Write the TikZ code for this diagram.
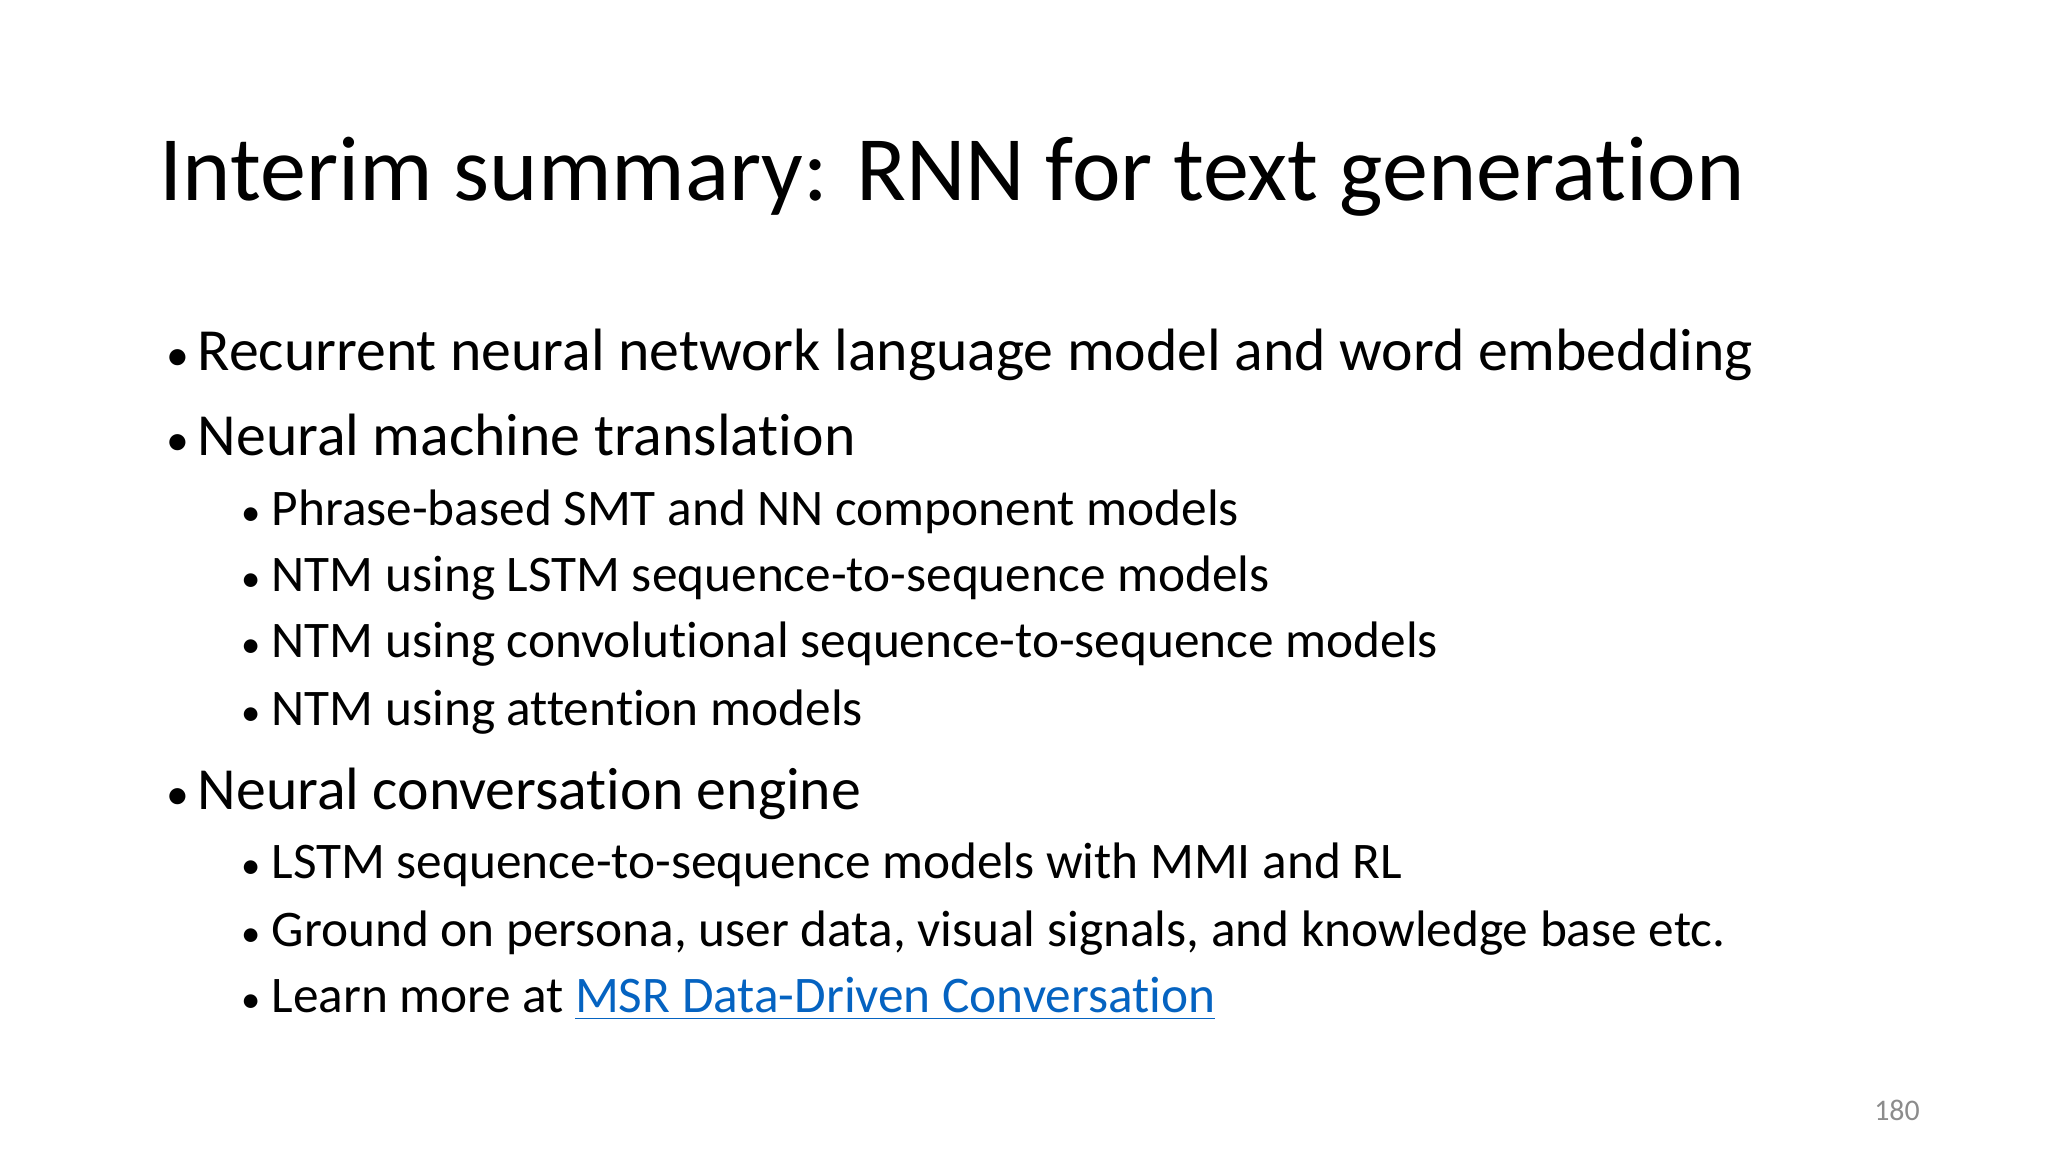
\documentclass[tikz,border=0pt]{standalone}
\usepackage{fontspec}
\setmainfont[Ligatures=NoCommon]{Carlito}
\definecolor{linkblue}{HTML}{0563C1}
\definecolor{pagegray}{HTML}{8C8C8C}
\newcommand{\bulA}{\makebox[0.31cm][l]{\fontsize{13}{14}\selectfont•}}
\newcommand{\bulB}{\makebox[0.30cm][l]{\fontsize{11}{12}\selectfont•}}
\begin{document}
\begin{tikzpicture}[x=1cm,y=1cm,
  title/.style={anchor=base west,inner sep=0pt,font=\fontsize{26.2}{30}\selectfont},
  lone/.style={anchor=base west,inner sep=0pt,font=\fontsize{17}{20}\selectfont},
  ltwo/.style={anchor=base west,inner sep=0pt,font=\fontsize{14.6}{17}\selectfont}]
\useasboundingbox[fill=white] (0,0) rectangle (20.48,11.52);
\node[title] (t) at (1.59,9.51) {Interim summary: RNN for text generation};
\node[lone] (a) at (1.66,7.81) {\bulA Recurrent neural network language model and word embedding};
\node[lone] (b) at (1.66,6.96) {\bulA Neural machine translation};
\node[ltwo] (b1) at (2.41,6.26) {\bulB Phrase-based SMT and NN component models};
\node[ltwo] (b2) at (2.41,5.60) {\bulB NTM using LSTM sequence-to-sequence models};
\node[ltwo] (b3) at (2.41,4.94) {\bulB NTM using convolutional sequence-to-sequence models};
\node[ltwo] (b4) at (2.41,4.26) {\bulB NTM using attention models};
\node[lone] (c) at (1.66,3.42) {\bulA Neural conversation engine};
\node[ltwo] (c1) at (2.41,2.73) {\bulB LSTM sequence-to-sequence models with MMI and RL};
\node[ltwo] (c2) at (2.41,2.05) {\bulB Ground on persona, user data, visual signals, and knowledge base etc.};
\node[ltwo] (c3) at (2.41,1.39) {\bulB Learn more at \textcolor{linkblue}{\underline{MSR Data-Driven Conversation}}};
\node[anchor=base,inner sep=0pt,font=\fontsize{8.5}{10}\selectfont,text=pagegray] (p) at (18.97,0.31) {180};
\end{tikzpicture}
\end{document}
